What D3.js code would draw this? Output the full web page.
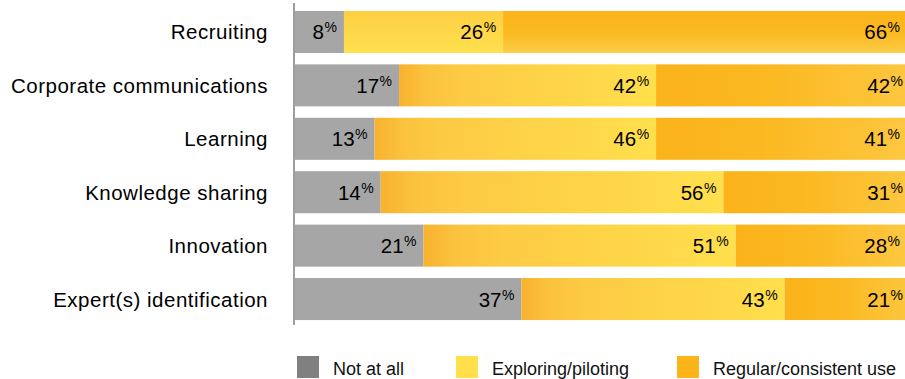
<!DOCTYPE html>
<html>
<head>
<meta charset="utf-8">
<script src="https://cdn.jsdelivr.net/npm/d3@7"></script>
<style>
  html, body { margin: 0; padding: 0; background: #fff; }
  svg { display: block; font-family: "Liberation Sans", Arial, Helvetica, sans-serif; }
</style>
</head>
<body>
<svg id="chart" width="905" height="379"></svg>
<script>
// Social media use by business function (share of respondents, %)
const categories = [
  "Recruiting",
  "Corporate communications",
  "Learning",
  "Knowledge sharing",
  "Innovation",
  "Expert(s) identification"
];
const notAtAll  = [8, 17, 13, 14, 21, 37];
const exploring = [26, 42, 46, 56, 51, 43];
const regular   = [66, 42, 41, 31, 28, 21];
const seriesNames = ["Not at all", "Exploring/piloting", "Regular/consistent use"];

const svg = d3.select("#chart");
const defs = svg.append("defs");

// Fills: flat grey, plus shaded yellow/orange gradients
function grad(id, stops, vertical) {
  const g = defs.append("linearGradient").attr("id", id)
    .attr("x1", 0).attr("y1", 0)
    .attr("x2", vertical ? 0 : 1).attr("y2", vertical ? 1 : 0);
  stops.forEach(([o, c]) => g.append("stop").attr("offset", o).attr("stop-color", c));
}
grad("expH", [[0, "#F8B22E"], [0.1, "#FBC23E"], [0.25, "#FDCB44"], [1, "#FFDF4C"]], false);
grad("regH", [[0, "#FBB31A"], [0.4, "#FBB820"], [1, "#FDC740"]], false);
grad("expV", [[0, "#FDCF42"], [1, "#FFE04E"]], true);
grad("regV", [[0, "#FBB31A"], [0.5, "#FBB920"], [1, "#FDCC47"]], true);

const x = d3.scaleLinear().domain([0, 100]).range([295, 907]);
const y = d3.scaleBand().domain(categories)
  .range([5.6, 325.4]).paddingInner(0.213).paddingOuter(0.1);

const rows = categories.map((c, i) => {
  const vals = [notAtAll[i], exploring[i], regular[i]];
  let acc = 0;
  return { cat: c, i, segs: vals.map((v, k) => { const s = { k, v, x0: acc, x1: acc + v }; acc += v; return s; }) };
});

function fillFor(row, k) {
  if (k === 0) return "#A6A6A6";
  const vertical = row.i === 0;
  if (k === 1) return vertical ? "url(#expV)" : "url(#expH)";
  return vertical ? "url(#regV)" : "url(#regH)";
}

const g = svg.append("g");
const rowG = g.selectAll("g.row").data(rows).join("g").attr("class", "row");

rowG.selectAll("rect").data(d => d.segs.map(s => ({ ...s, row: d })))
  .join("rect")
  .attr("x", s => x(s.x0))
  .attr("y", s => y(s.row.cat))
  .attr("width", s => x(s.x1) - x(s.x0))
  .attr("height", y.bandwidth())
  .attr("fill", s => fillFor(s.row, s.k));

// Value labels, right-aligned inside each segment, with a small raised % sign
const lab = rowG.selectAll("text.val").data(d => d.segs.map(s => ({ ...s, row: d })))
  .join("text").attr("class", "val")
  .attr("x", s => Math.min(x(s.x1) - 7, 903))
  .attr("y", s => y(s.row.cat) + y.bandwidth() / 2 + 7.5)
  .attr("text-anchor", "end")
  .attr("font-size", 20.5)
  .attr("fill", "#000");
lab.append("tspan").text(s => s.v);
lab.append("tspan").attr("font-size", 14).attr("dy", -7).attr("dx", 0.5).text("%");

// Category labels
g.selectAll("text.cat").data(categories).join("text").attr("class", "cat")
  .attr("x", 268)
  .attr("y", c => y(c) + y.bandwidth() / 2 + 7.5)
  .attr("text-anchor", "end")
  .attr("font-size", 20.5)
  .attr("letter-spacing", 0.5)
  .attr("fill", "#000")
  .text(c => c);

// Vertical baseline
g.append("line")
  .attr("x1", 294).attr("x2", 294)
  .attr("y1", 3).attr("y2", 325)
  .attr("stroke", "#9E9E9E").attr("stroke-width", 2);

// Legend
const legendColors = ["#808080", "#FFE04B", "#FBB51B"];
const legendX = [297, 456, 677];
const lg = svg.append("g").selectAll("g").data(seriesNames).join("g")
  .attr("transform", (d, i) => `translate(${legendX[i]},356)`);
lg.append("rect").attr("width", 22).attr("height", 22).attr("fill", (d, i) => legendColors[i]);
lg.append("text").attr("x", 36).attr("y", 19).attr("font-size", 18).attr("fill", "#111").text(d => d);
</script>
</body>
</html>
